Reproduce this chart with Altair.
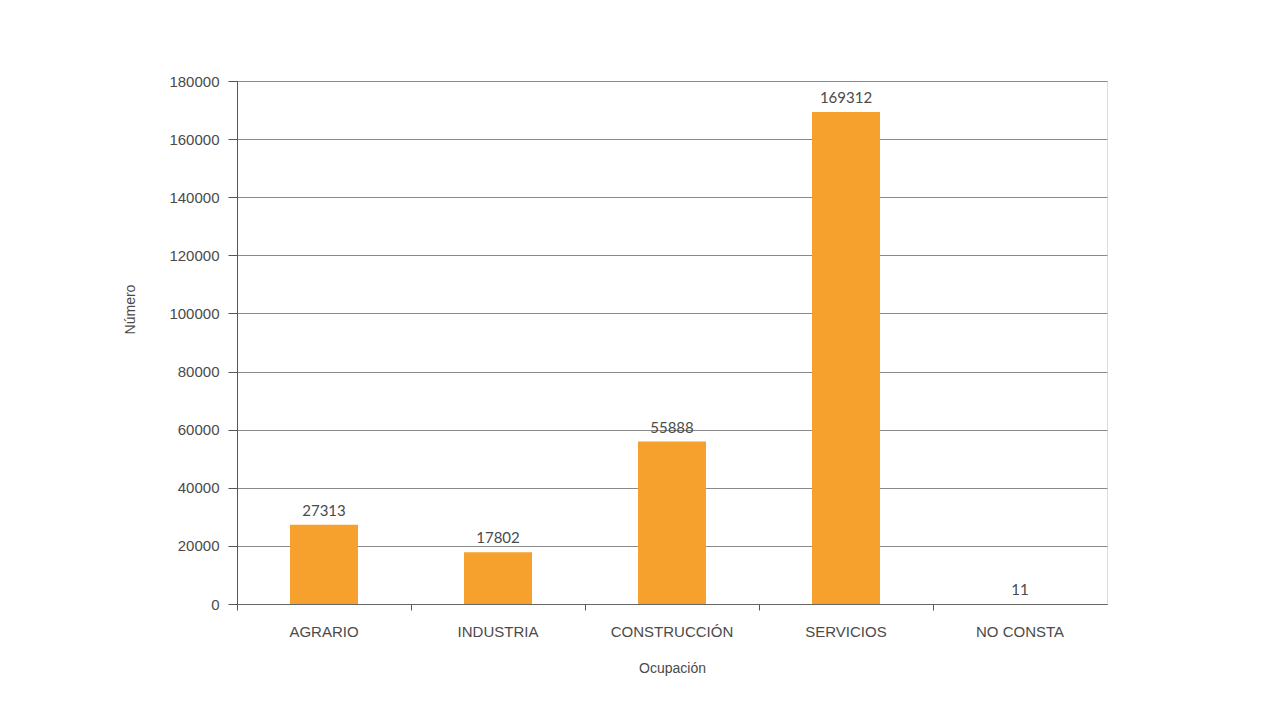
import altair as alt
import pandas as pd

categories = ["AGRARIO", "INDUSTRIA", "CONSTRUCCIÓN", "SERVICIOS", "NO CONSTA"]
values = [27313, 17802, 55888, 169312, 11]
y_ticks = [0, 20000, 40000, 60000, 80000, 100000, 120000, 140000, 160000, 180000]

df = pd.DataFrame({"Ocupación": categories, "Número": values})

FONT = "Lato"
TXT = "#4a4a4a"

x_enc = alt.X(
    "Ocupación:N",
    sort=categories,
    scale=alt.Scale(paddingInner=0, paddingOuter=0),
    axis=alt.Axis(
        title="Ocupación",
        labelAngle=0,
        labelFontSize=15,
        labelColor=TXT,
        labelPadding=14,
        titleFontSize=14,
        titleColor=TXT,
        titleFontWeight="normal",
        titlePadding=22,
        bandPosition=0,
        tickSize=6,
        tickColor="#555",
        domainColor="#666",
        grid=False,
    ),
)

y_enc = alt.Y(
    "Número:Q",
    scale=alt.Scale(domain=[0, 180000], nice=False),
    axis=alt.Axis(
        title="Número",
        values=y_ticks,
        format="d",
        labelFontSize=15,
        labelColor=TXT,
        labelPadding=9,
        tickSize=9,
        tickColor="#555",
        domainColor="#555",
        gridColor="#8a8a8a",
        gridWidth=1,
        titleFontSize=14,
        titleColor=TXT,
        titleFontWeight="normal",
        titleX=-100,
        titleY=228,
    ),
)

bars = alt.Chart(df).mark_bar(size=68, color="#F6A02E").encode(x=x_enc, y=y_enc)

labels = alt.Chart(df).mark_text(
    dy=-6, baseline="bottom", fontSize=15, color=TXT, font=FONT
).encode(
    x=alt.X("Ocupación:N", sort=categories),
    y=alt.Y("Número:Q"),
    text=alt.Text("Número:Q", format="d"),
)

chart = (
    alt.layer(bars, labels)
    .properties(
        width=870,
        height=523,
        autosize=alt.AutoSizeParams(type="none"),
        padding={"left": 229, "top": 73, "right": 140, "bottom": 100},
    )
    .configure_view(stroke="#777", strokeWidth=1)
    .configure_axis(labelFont=FONT, titleFont=FONT)
    .configure(background="white")
)

chart.save("out.html", embed_options={"renderer": "svg", "actions": False})
